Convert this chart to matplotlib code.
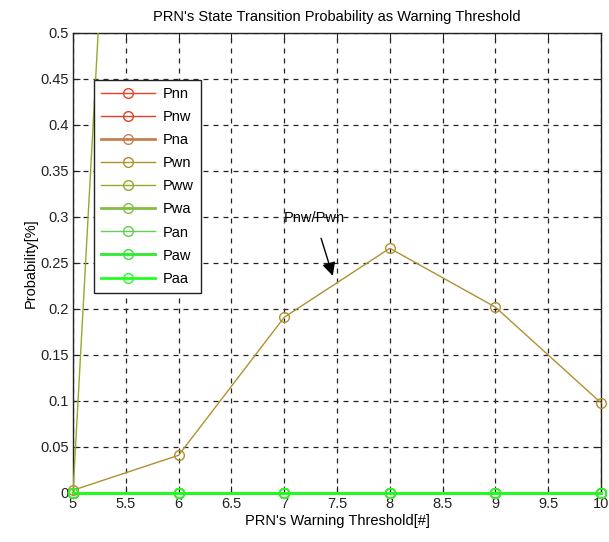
import matplotlib
matplotlib.use("Agg")
import matplotlib.pyplot as plt
from matplotlib.lines import Line2D

plt.rcParams['font.family'] = ['Liberation Sans', 'DejaVu Sans']

thresholds = [5, 6, 7, 8, 9, 10]
labels = ['Pnn', 'Pnw', 'Pna', 'Pwn', 'Pww', 'Pwa', 'Pan', 'Paw', 'Paa']
Pnn = [1.00, 0.96, 0.81, 0.73, 0.80, 0.90]
Pnw = [0.0, 0.0, 0.0, 0.0, 0.0, 0.0]
Pna = [0.0, 0.0, 0.0, 0.0, 0.0, 0.0]
Pwn = [0.003, 0.041, 0.191, 0.266, 0.202, 0.098]
Pww = [0.0, 2.1, 2.1, 2.1, 2.1, 2.1]
Pwa = [0.0, 0.0, 0.0, 0.0, 0.0, 0.0]
Pan = [0.0, 0.0, 0.0, 0.0, 0.0, 0.0]
Paw = [0.0, 0.0, 0.0, 0.0, 0.0, 0.0]
Paa = [0.0, 0.0, 0.0, 0.0, 0.0, 0.0]
series = [Pnn, Pnw, Pna, Pwn, Pww, Pwa, Pan, Paw, Paa]
colors = ['#f04020', '#e04020', '#c88050', '#b09030', '#98a828',
          '#80c040', '#60d050', '#30e830', '#20ff20']
widths = [1.0, 1.0, 2.0, 1.0, 1.0, 2.0, 1.0, 2.0, 2.0]

xticks = [5, 5.5, 6, 6.5, 7, 7.5, 8, 8.5, 9, 9.5, 10]
xticklabels = ['5', '5.5', '6', '6.5', '7', '7.5', '8', '8.5', '9', '9.5', '10']
yticks = [0, 0.05, 0.1, 0.15, 0.2, 0.25, 0.3, 0.35, 0.4, 0.45, 0.5]
yticklabels = ['0', '0.05', '0.1', '0.15', '0.2', '0.25', '0.3', '0.35', '0.4', '0.45', '0.5']

fig = plt.figure(figsize=(6.09, 5.42), dpi=100)
ax = fig.add_axes([73/609, 1-493/542, 528/609, 460/542])

ymin, ymax = 0, 0.5
for lab, vals, c, w in zip(labels, series, colors, widths):
    inside = all(ymin <= v <= ymax for v in vals)
    ax.plot(thresholds, vals, color=c, lw=w, zorder=3, clip_on=not inside)
    xs = [x for x, v in zip(thresholds, vals) if ymin <= v <= ymax]
    vs = [v for v in vals if ymin <= v <= ymax]
    ax.plot(xs, vs, linestyle='none', marker='o', markersize=7,
            markerfacecolor='none', markeredgecolor=c, markeredgewidth=1.0,
            clip_on=False, zorder=4)

ax.set_xlim(5, 10)
ax.set_ylim(ymin, ymax)
ax.set_xticks(xticks)
ax.set_xticklabels(xticklabels)
ax.set_yticks(yticks)
ax.set_yticklabels(yticklabels)
ax.tick_params(direction='in', top=True, right=True, labelsize=10.5,
               length=5, width=0.8, colors='#222222', pad=3)
ax.grid(True, linestyle=(0, (4, 4)), color='#222222', lw=0.9)
for sp in ax.spines.values():
    sp.set_color('#222222')
    sp.set_linewidth(1.0)

ax.set_title("PRN's State Transition Probability as Warning Threshold",
             fontsize=10.5, pad=9)
ax.set_xlabel("PRN's Warning Threshold[#]", fontsize=10.5, labelpad=2)
ax.set_ylabel("Probability[%]", fontsize=10.5, labelpad=2)

ax.annotate('Pnw/Pwn', xy=(7.46, 0.236), xytext=(7.0, 0.299),
            fontsize=10.5, ha='left', va='center',
            arrowprops=dict(arrowstyle='-|>', color='k', lw=1,
                            mutation_scale=20, shrinkA=8, shrinkB=0))

handles = [Line2D([], [], color=c, lw=w, marker='o', markersize=7,
                  markerfacecolor='none', markeredgecolor=c)
           for c, w in zip(colors, widths)]
leg = ax.legend(handles, labels, loc='upper left',
                bbox_to_anchor=(21/528, 413/460),
                borderaxespad=0, fontsize=10.5, handlelength=3.7,
                labelspacing=0.62, fancybox=False, framealpha=1,
                edgecolor='#222222', borderpad=0.5, handletextpad=0.5)
leg.get_frame().set_linewidth(1.0)
leg.set_zorder(5)

fig.savefig('out.png', dpi=100)
